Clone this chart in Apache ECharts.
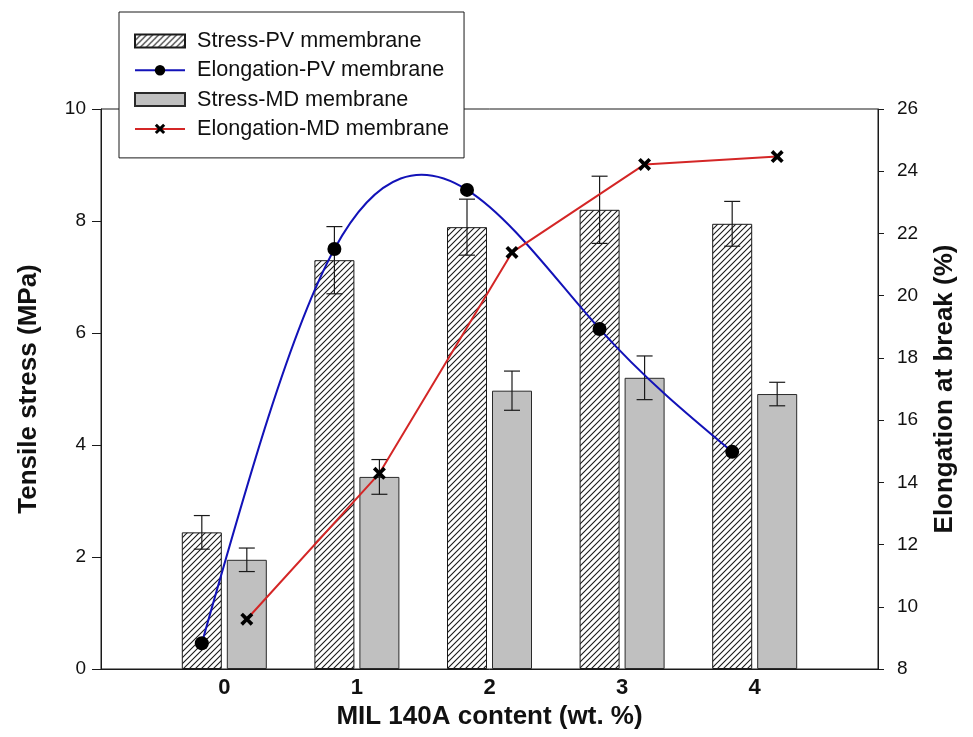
<!DOCTYPE html>
<html>
<head>
<meta charset="utf-8">
<script src="https://cdn.jsdelivr.net/npm/echarts@6/dist/echarts.min.js"></script>
<style>
  html, body { margin: 0; padding: 0; background: #fff; }
  #chart { width: 973px; height: 737px; }
</style>
</head>
<body>
<div id="chart"></div>
<script>
// MIL 140A loading (wt. %)
const categories = [0, 1, 2, 3, 4];
const categoryLabels = ['0', '1', '2', '3', '4'];

// Tensile stress (MPa) with standard deviation
const stressPV = [2.44, 7.30, 7.89, 8.20, 7.95];
const stressPVErr = [0.30, 0.60, 0.50, 0.60, 0.40];
const stressMD = [1.95, 3.43, 4.97, 5.20, 4.91];
const stressMDErr = [0.21, 0.31, 0.35, 0.39, 0.21];

// Elongation at break (%)
const elongPV = [8.83, 21.5, 23.40, 18.93, 14.98];
const elongMD = [9.60, 14.29, 21.39, 24.22, 24.47];

const stressTicks = [0, 2, 4, 6, 8, 10];
const elongTicks = [8, 10, 12, 14, 16, 18, 20, 22, 24, 26];

// layout
const W = 973, H = 737;
const grid = { left: 101, right: 95, top: 109, bottom: 68 };
const xMin = -0.93, xMax = 4.93;
const barW = 40, barGapPx = 5;
const pairShiftPx = (barW + barGapPx) / 2;          // bar centre offset from category centre
const pxPerUnit = (W - grid.left - grid.right) / (xMax - xMin);
const pairShift = pairShiftPx / pxPerUnit;          // same offset in axis units

const FONT = '"Liberation Sans", Arial, sans-serif';
const BLUE = '#1212b8';
const RED = '#d42626';

// diagonal hatch used for the PV stress bars
function hatch() {
  const s = 6;
  const c = document.createElement('canvas');
  c.width = s; c.height = s;
  const g = c.getContext('2d');
  g.fillStyle = '#fff';
  g.fillRect(0, 0, s, s);
  g.strokeStyle = '#1a1a1a';
  g.lineWidth = 1.1;
  g.beginPath();
  g.moveTo(-1, s + 1); g.lineTo(s + 1, -1);
  g.moveTo(-1, 1); g.lineTo(1, -1);
  g.moveTo(s - 1, s + 1); g.lineTo(s + 1, s - 1);
  g.stroke();
  return c;
}

const crossPath = 'path://M2,0 L5,3 L8,0 L10,2 L7,5 L10,8 L8,10 L5,7 L2,10 L0,8 L3,5 L0,2 Z';

function errorSeries(values, errs, side) {
  return {
    type: 'custom',
    xAxisIndex: 0,
    yAxisIndex: 0,
    silent: true,
    z: 5,
    data: categories.map((c, i) => [c, values[i], errs[i]]),
    encode: { x: 0, y: 1 },
    renderItem(params, api) {
      const x = api.value(0), v = api.value(1), e = api.value(2);
      const top = api.coord([x, v + e]);
      const bot = api.coord([x, v - e]);
      const cx = top[0] + side * pairShiftPx;
      const hw = 8;
      const st = { stroke: '#1a1a1a', lineWidth: 1.2 };
      return {
        type: 'group',
        children: [
          { type: 'line', shape: { x1: cx, y1: top[1], x2: cx, y2: bot[1] }, style: st },
          { type: 'line', shape: { x1: cx - hw, y1: top[1], x2: cx + hw, y2: top[1] }, style: st },
          { type: 'line', shape: { x1: cx - hw, y1: bot[1], x2: cx + hw, y2: bot[1] }, style: st }
        ]
      };
    }
  };
}

// natural cubic spline through screen points, returned as Bezier segments
function splineSegments(pts) {
  const n = pts.length;
  const h = [], M = new Array(n).fill(0);
  for (let i = 0; i < n - 1; i++) h.push(pts[i + 1][0] - pts[i][0]);
  if (n > 2) {
    const a = [], b = [], c = [], d = [];
    for (let i = 1; i < n - 1; i++) {
      a.push(h[i - 1]);
      b.push(2 * (h[i - 1] + h[i]));
      c.push(h[i]);
      d.push(6 * ((pts[i + 1][1] - pts[i][1]) / h[i] - (pts[i][1] - pts[i - 1][1]) / h[i - 1]));
    }
    const m = b.length;
    for (let i = 1; i < m; i++) {
      const w = a[i] / b[i - 1];
      b[i] -= w * c[i - 1];
      d[i] -= w * d[i - 1];
    }
    const sol = new Array(m);
    sol[m - 1] = d[m - 1] / b[m - 1];
    for (let i = m - 2; i >= 0; i--) sol[i] = (d[i] - c[i] * sol[i + 1]) / b[i];
    for (let i = 0; i < m; i++) M[i + 1] = sol[i];
  }
  const segs = [];
  for (let i = 0; i < n - 1; i++) {
    const [x0, y0] = pts[i], [x1, y1] = pts[i + 1];
    const hh = h[i];
    const s = (y1 - y0) / hh;
    const d0 = s - hh * (2 * M[i] + M[i + 1]) / 6;
    const d1 = s + hh * (M[i] + 2 * M[i + 1]) / 6;
    segs.push({
      x1: x0, y1: y0, x2: x1, y2: y1,
      cpx1: x0 + hh / 3, cpy1: y0 + d0 * hh / 3,
      cpx2: x1 - hh / 3, cpy2: y1 - d1 * hh / 3
    });
  }
  return segs;
}

const pvPoints = categories.map((c, i) => [c - pairShift, elongPV[i]]);
const mdPoints = categories.map((c, i) => [c + pairShift, elongMD[i]]);

const chart = echarts.init(document.getElementById('chart'), null, { renderer: 'canvas' });

chart.setOption({
  backgroundColor: '#fff',
  animation: false,
  textStyle: { fontFamily: FONT },
  grid: {
    left: grid.left, right: grid.right, top: grid.top, bottom: grid.bottom,
    show: true, borderColor: '#1a1a1a', borderWidth: 1, backgroundColor: 'transparent'
  },
  legend: {
    orient: 'vertical',
    left: 119, top: 12,
    padding: [18, 15, 18, 15],
    itemWidth: 50, itemHeight: 13, itemGap: 7.3,
    backgroundColor: '#fff',
    borderColor: '#1a1a1a', borderWidth: 1, borderRadius: 0,
    textStyle: { fontFamily: FONT, fontSize: 21.6, color: '#111', padding: [0, 0, 0, 7] },
    data: [
      { name: 'Stress-PV mmembrane', icon: 'rect' },
      { name: 'Elongation-PV membrane', lineStyle: { color: BLUE, width: 2, opacity: 1 } },
      { name: 'Stress-MD membrane', icon: 'rect' },
      { name: 'Elongation-MD membrane' }
    ]
  },
  xAxis: {
    type: 'value',
    min: xMin, max: xMax,
    name: 'MIL 140A content (wt. %)',
    nameLocation: 'middle',
    nameGap: 35,
    nameTextStyle: { fontFamily: FONT, fontSize: 26, fontWeight: 'bold', color: '#111' },
    axisLine: { onZero: false, lineStyle: { color: '#1a1a1a', width: 1 } },
    axisTick: { show: false },
    splitLine: { show: false },
    axisLabel: {
      customValues: categories,
      formatter: v => categoryLabels[categories.indexOf(v)] ?? '',
      margin: 8,
      fontFamily: FONT, fontSize: 22, fontWeight: 'bold', color: '#111'
    }
  },
  yAxis: [
    {
      type: 'value', position: 'left',
      min: stressTicks[0], max: stressTicks[stressTicks.length - 1], interval: 2,
      name: 'Tensile stress (MPa)',
      nameLocation: 'middle', nameGap: 59,
      nameTextStyle: { fontFamily: FONT, fontSize: 26, fontWeight: 'bold', color: '#111' },
      axisLine: { show: true, onZero: false, lineStyle: { color: '#1a1a1a', width: 1 } },
      axisTick: { show: true, length: 9, lineStyle: { color: '#1a1a1a' } },
      splitLine: { show: false },
      axisLabel: { margin: 15, fontFamily: FONT, fontSize: 19, color: '#111' }
    },
    {
      type: 'value', position: 'right',
      min: elongTicks[0], max: elongTicks[elongTicks.length - 1], interval: 2,
      name: 'Elongation at break (%)',
      nameLocation: 'middle', nameGap: 54,
      nameTextStyle: { fontFamily: FONT, fontSize: 26, fontWeight: 'bold', color: '#111' },
      axisLine: { show: true, onZero: false, lineStyle: { color: '#1a1a1a', width: 1 } },
      axisTick: { show: true, length: 6, lineStyle: { color: '#1a1a1a' } },
      splitLine: { show: false },
      axisLabel: { margin: 19, fontFamily: FONT, fontSize: 19, color: '#111' }
    }
  ],
  series: [
    {
      name: 'Stress-PV mmembrane',
      type: 'bar',
      yAxisIndex: 0,
      barWidth: barW,
      barGap: (barGapPx / barW * 100) + '%',
      itemStyle: { color: { image: hatch(), repeat: 'repeat' }, borderColor: '#1a1a1a', borderWidth: 1 },
      data: categories.map((c, i) => [c, stressPV[i]]),
      z: 2
    },
    {
      name: 'Stress-MD membrane',
      type: 'bar',
      yAxisIndex: 0,
      barWidth: barW,
      barGap: (barGapPx / barW * 100) + '%',
      itemStyle: { color: '#c0c0c0', borderColor: '#2a2a2a', borderWidth: 1 },
      data: categories.map((c, i) => [c, stressMD[i]]),
      z: 2
    },
    errorSeries(stressPV, stressPVErr, -1),
    errorSeries(stressMD, stressMDErr, 1),
    {
      // spline curve for the PV elongation, drawn through the axis scale
      type: 'custom',
      xAxisIndex: 0,
      yAxisIndex: 1,
      silent: true,
      z: 8,
      data: pvPoints,
      encode: { x: 0, y: 1 },
      renderItem(params, api) {
        if (params.dataIndex !== 0) return null;
        const screen = pvPoints.map(p => api.coord(p));
        return {
          type: 'group',
          children: splineSegments(screen).map(shape => ({
            type: 'bezierCurve',
            shape,
            style: { stroke: BLUE, lineWidth: 2, fill: null }
          }))
        };
      }
    },
    {
      name: 'Elongation-PV membrane',
      type: 'line',
      yAxisIndex: 1,
      symbol: 'circle',
      symbolSize: 14,
      lineStyle: { color: BLUE, width: 2, opacity: 0 },
      itemStyle: { color: '#000' },
      data: pvPoints,
      z: 10
    },
    {
      name: 'Elongation-MD membrane',
      type: 'line',
      yAxisIndex: 1,
      smooth: false,
      symbol: crossPath,
      symbolSize: 13,
      lineStyle: { color: RED, width: 2 },
      itemStyle: { color: '#000' },
      data: mdPoints,
      z: 10
    }
  ]
});
</script>
</body>
</html>
